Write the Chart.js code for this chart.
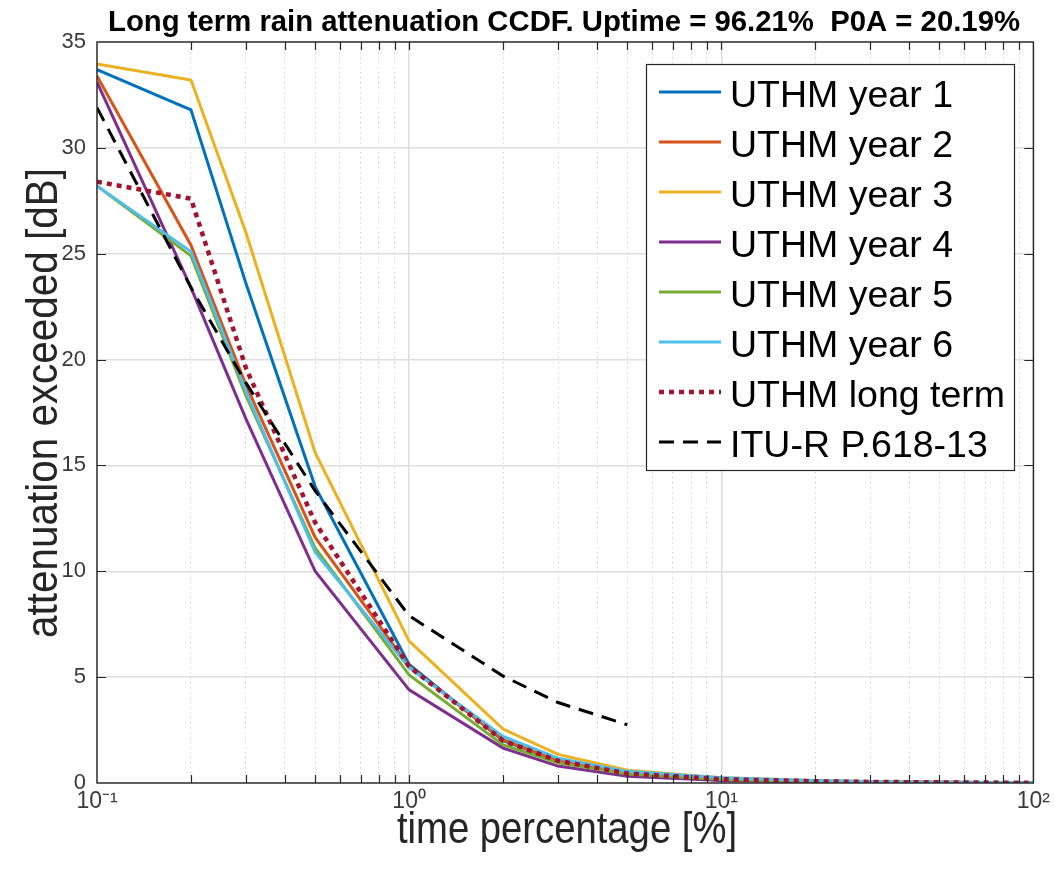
<!DOCTYPE html>
<html>
<head>
<meta charset="utf-8">
<script src="https://cdn.jsdelivr.net/npm/chart.js@4.4.1/dist/chart.umd.min.js"></script>
<style>
  html, body { margin: 0; padding: 0; background: #fff; }
  #wrap { width: 1055px; height: 874px; }
</style>
</head>
<body>
<div id="wrap"><canvas id="chart" width="1055" height="874"></canvas></div>
<script>
// time percentage [%] points of the measured CCDFs
const timePct = [0.1, 0.2, 0.3, 0.5, 1, 2, 3, 5, 10, 20, 30, 50, 100];

// attenuation exceeded [dB], one array per year
const year1 = [33.7, 31.8, 23.6, 14.0, 5.6, 2.0, 1.05, 0.5, 0.2, 0.1, 0.06, 0.03, 0.01];
const year2 = [33.4, 25.4, 18.8, 11.6, 5.5, 2.05, 1.05, 0.45, 0.2, 0.1, 0.05, 0.03, 0.01];
const year3 = [33.96, 33.2, 26.0, 15.6, 6.7, 2.55, 1.35, 0.6, 0.25, 0.12, 0.07, 0.04, 0.01];
const year4 = [33.1, 23.4, 17.2, 10.0, 4.4, 1.65, 0.8, 0.32, 0.12, 0.05, 0.03, 0.02, 0.01];
const year5 = [28.2, 24.9, 18.3, 11.1, 5.1, 1.8, 0.95, 0.42, 0.17, 0.08, 0.05, 0.03, 0.01];
const year6 = [28.2, 25.1, 18.5, 10.9, 5.45, 2.2, 1.17, 0.55, 0.25, 0.12, 0.07, 0.04, 0.02];
const longTerm = [28.4, 27.6, 19.6, 12.3, 5.5, 2.0, 1.05, 0.45, 0.18, 0.08, 0.05, 0.03, 0.01];

// ITU-R P.618-13 prediction
const ituPct = [0.1, 0.2, 0.3, 0.5, 1, 2, 3, 5];
const ituAtt = [31.9, 23.4, 18.9, 13.8, 7.9, 5.05, 3.8, 2.75];

// axes
const xDecades = [0.1, 1, 10, 100];
const xDecadeLabels = ['10⁻¹', '10⁰', '10¹', '10²'];
const xTickValues = [0.1, 0.2, 0.3, 0.4, 0.5, 0.6, 0.7, 0.8, 0.9,
  1, 2, 3, 4, 5, 6, 7, 8, 9,
  10, 20, 30, 40, 50, 60, 70, 80, 90, 100];
const yMin = 0, yMax = 35, yStep = 5;

const titleText = 'Long term rain attenuation CCDF. Uptime = 96.21%  P0A = 20.19%';
const xTitle = 'time percentage [%]';
const yTitle = 'attenuation exceeded [dB]';

const FONT = '"Liberation Sans", Arial, Helvetica, sans-serif';
const AXIS = '#262626';

const pts = (xs, ys) => xs.map((x, i) => ({ x, y: ys[i] }));
const isDecade = (v) => xDecades.some((d) => Math.abs(d - v) < 1e-9);

function series(label, xs, ys, color, extra) {
  return Object.assign({
    label,
    data: pts(xs, ys),
    borderColor: color,
    backgroundColor: color,
    borderWidth: 3,
    pointRadius: 0,
    tension: 0,
    fill: false,
  }, extra || {});
}

const datasets = [
  series('UTHM year 1', timePct, year1, '#0072BD', { order: 8 }),
  series('UTHM year 2', timePct, year2, '#D95319', { order: 7 }),
  series('UTHM year 3', timePct, year3, '#EDB120', { order: 6 }),
  series('UTHM year 4', timePct, year4, '#7E2F8E', { order: 5 }),
  series('UTHM year 5', timePct, year5, '#77AC30', { order: 4 }),
  series('UTHM year 6', timePct, year6, '#4DBEEE', { order: 3 }),
  series('UTHM long term', timePct, longTerm, '#A2142F', { order: 2, borderWidth: 4.5, borderDash: [5, 5] }),
  series('ITU-R P.618-13', ituPct, ituAtt, '#000000', { order: 1, borderWidth: 3, borderDash: [15, 9] }),
];

// fit a string to a given width by squeezing it horizontally
function drawFitted(ctx, text, x, y, width, rotate) {
  const k = width / ctx.measureText(text).width;
  ctx.save();
  ctx.translate(x, y);
  if (rotate) ctx.rotate(-Math.PI / 2);
  ctx.scale(k, 1);
  ctx.textAlign = 'center';
  ctx.fillText(text, 0, 0);
  ctx.restore();
}

const decorPlugin = {
  id: 'decor',
  afterDraw(chart) {
    const { ctx, chartArea: a, scales } = chart;
    const xs = scales.x, ys = scales.y;
    ctx.save();

    // inward tick marks on all four sides
    ctx.strokeStyle = AXIS;
    ctx.lineWidth = 1.2;
    ctx.beginPath();
    xs.ticks.forEach((t) => {
      const px = Math.round(xs.getPixelForValue(t.value)) + 0.5;
      if (px <= a.left + 1 || px >= a.right - 1) return;
      ctx.moveTo(px, a.bottom); ctx.lineTo(px, a.bottom - 8);
      ctx.moveTo(px, a.top); ctx.lineTo(px, a.top + 8);
    });
    ys.ticks.forEach((t) => {
      const py = Math.round(ys.getPixelForValue(t.value)) + 0.5;
      if (py <= a.top + 1 || py >= a.bottom - 1) return;
      ctx.moveTo(a.left, py); ctx.lineTo(a.left + 9, py);
      ctx.moveTo(a.right, py); ctx.lineTo(a.right - 9, py);
    });
    ctx.stroke();

    // axes box
    ctx.lineWidth = 1.4;
    ctx.strokeRect(a.left, a.top, a.right - a.left, a.bottom - a.top);

    // legend
    const lx = 646, ly = 64, lw = 368, lh = 406;
    ctx.fillStyle = '#fff';
    ctx.fillRect(lx, ly, lw, lh);
    ctx.lineWidth = 1.2;
    ctx.strokeStyle = AXIS;
    ctx.strokeRect(lx + 0.5, ly + 0.5, lw, lh);
    ctx.font = '36px ' + FONT;
    const k = 223 / ctx.measureText(chart.data.datasets[0].label).width;
    chart.data.datasets.forEach((ds, i) => {
      const yy = 92 + i * 50;
      ctx.save();
      ctx.strokeStyle = ds.borderColor;
      ctx.lineWidth = ds.borderWidth;
      ctx.setLineDash(ds.borderDash || []);
      ctx.beginPath();
      ctx.moveTo(659, yy);
      ctx.lineTo(721, yy);
      ctx.stroke();
      ctx.restore();
      ctx.save();
      ctx.fillStyle = '#000';
      ctx.textBaseline = 'alphabetic';
      ctx.translate(730, yy + 14.5);
      ctx.scale(k, 1);
      ctx.fillText(ds.label, 0, 0);
      ctx.restore();
    });

    // titles
    ctx.fillStyle = '#000';
    ctx.textBaseline = 'alphabetic';
    ctx.font = 'bold 29px ' + FONT;
    drawFitted(ctx, titleText, 564, 31, 912, false);
    ctx.fillStyle = '#262626';
    ctx.font = '44px ' + FONT;
    drawFitted(ctx, xTitle, 567, 843, 340, false);
    drawFitted(ctx, yTitle, 57, 403, 470, true);
    ctx.restore();
  },
};

new Chart(document.getElementById('chart'), {
  type: 'line',
  data: { datasets },
  options: {
    responsive: false,
    animation: false,
    layout: { padding: { top: 42, right: 21, left: 0, bottom: 0 } },
    plugins: { legend: { display: false }, title: { display: false }, tooltip: { enabled: false } },
    scales: {
      x: {
        type: 'logarithmic',
        min: 0.1,
        max: 100,
        afterBuildTicks: (scale) => {
          scale.ticks = xTickValues.map((v) => ({ value: v, major: isDecade(v) }));
        },
        afterFit: (scale) => { scale.height = 91; },
        ticks: {
          autoSkip: false,
          maxRotation: 0,
          padding: 5,
          color: '#3a3a3a',
          font: { family: FONT, size: 23 },
          callback: (v) => {
            const i = xDecades.findIndex((d) => Math.abs(d - v) < 1e-9);
            return i >= 0 ? xDecadeLabels[i] : '';
          },
        },
        grid: {
          drawTicks: false,
          color: (c) => (c.tick && isDecade(c.tick.value) ? '#dedede' : '#d2d2d2'),
          lineWidth: (c) => (c.tick && isDecade(c.tick.value) ? 1.5 : 1),
        },
        border: {
          display: false,
          dash: (c) => (c.tick && !isDecade(c.tick.value) ? [1.5, 3.5] : []),
        },
      },
      y: {
        min: yMin,
        max: yMax,
        afterFit: (scale) => { scale.width = 97; },
        ticks: {
          stepSize: yStep,
          padding: 11,
          color: '#3a3a3a',
          font: { family: FONT, size: 22 },
        },
        grid: { drawTicks: false, color: '#dedede', lineWidth: 1.5 },
        border: { display: false },
      },
    },
  },
  plugins: [decorPlugin],
});
</script>
</body>
</html>
